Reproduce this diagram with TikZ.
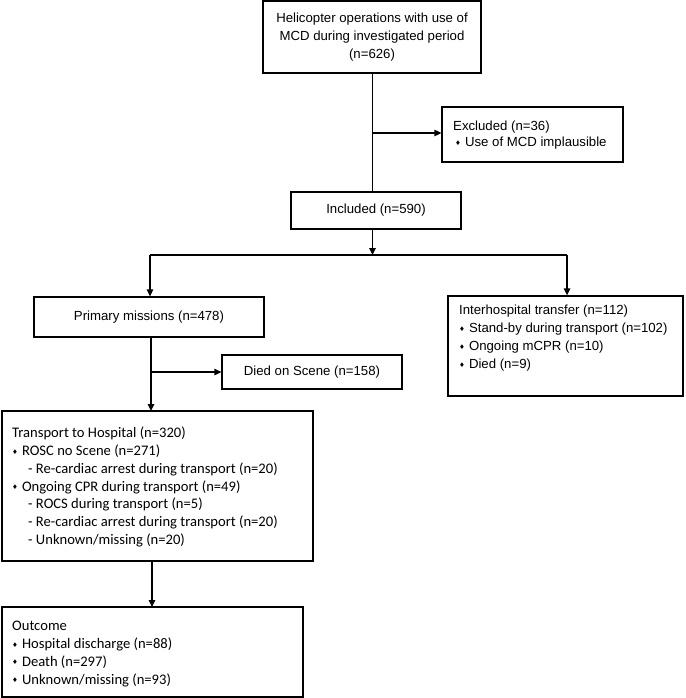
\documentclass[tikz,border=0pt]{standalone}
\usepackage{fontspec}
\setmainfont{Liberation Sans}
\newfontfamily\calfont{Carlito}
\newfontfamily\dejafont{DejaVu Sans}
\usetikzlibrary{arrows.meta}
\newcommand\dmd{\raisebox{0.2ex}{\dejafont\fontsize{6.5}{6.5}\selectfont ♦}\hspace{4pt}}
\newcommand\subind{\hspace*{16pt}}
\tikzset{
  box/.style={draw, line width=1.3pt, rectangle, inner sep=0pt},
  ln/.style={line width=1.3pt},
  arr/.style={line width=1.3pt, -{Triangle[length=7pt,width=6.5pt]}},
  ari/.style={font=\fontsize{13.2}{18}\selectfont, align=center},
  txa/.style={font=\fontsize{13.2}{18}\selectfont, align=left, inner sep=0pt, anchor=west},
  txc/.style={font=\calfont\fontsize{14.6}{17.7}\selectfont, align=left, inner sep=0pt, anchor=west},
}
\begin{document}
\begin{tikzpicture}[x=1pt,y=-1pt]
\useasboundingbox (0,0) rectangle (685,698);
% boxes
\node[box, ari, minimum width=218pt, minimum height=72pt] (top) at (372,37) {Helicopter operations with use of\\MCD during investigated period\\(n=626)};
\node[box, minimum width=181pt, minimum height=55pt] (excl) at (532.5,134.5) {};
\node[txa, font=\fontsize{13.2}{16.7}\selectfont] (excltxt) at (453,135) {Excluded (n=36)\\\hspace*{2pt}\dmd Use of MCD implausible};
\node[box, ari, minimum width=170pt, minimum height=37pt] (incl) at (376,210.5) {Included (n=590)};
\node[box, ari, minimum width=230pt, minimum height=40pt] (prim) at (149,317) {Primary missions (n=478)};
\node[box, minimum width=235pt, minimum height=100pt] (inter) at (565.5,346) {};
\node[txa] (intertxt) at (459,338) {Interhospital transfer (n=112)\\\dmd Stand-by during transport (n=102)\\\dmd Ongoing mCPR (n=10)\\\dmd Died (n=9)};
\node[box, ari, minimum width=180pt, minimum height=34pt] (died) at (312,372) {Died on Scene (n=158)};
\node[box, minimum width=311pt, minimum height=150pt] (trans) at (157.5,486) {};
\node[txc] (transtxt) at (12,487) {Transport to Hospital (n=320)\\\dmd ROSC no Scene (n=271)\\\subind - Re-cardiac arrest during transport (n=20)\\\dmd Ongoing CPR during transport (n=49)\\\subind - ROCS during transport (n=5)\\\subind - Re-cardiac arrest during transport (n=20)\\\subind - Unknown/missing (n=20)};
\node[box, minimum width=301pt, minimum height=90pt] (outc) at (152.5,652) {};
\node[txc] (outctxt) at (12,654) {Outcome\\\dmd Hospital discharge (n=88)\\\dmd Death (n=297)\\\dmd Unknown/missing (n=93)};
% coordinates
\coordinate (c1) at (372.5,73);
\coordinate (c2) at (372.5,133);
\coordinate (c3) at (372.5,192);
\coordinate (c4) at (372.5,229);
\coordinate (jm) at (372.5,255);
\coordinate (jl) at (150,255);
\coordinate (jr) at (567,255);
\coordinate (p1) at (151,337);
\coordinate (p2) at (151,372);
\coordinate (p3) at (151,411);
\coordinate (t1) at (152,561);
\coordinate (t2) at (152,607);
% connectors
\draw[ln] (c1) -- (c3);
\draw[arr] (c2) -- (excl.west |- c2);
\draw[arr] (c4) -- (jm);
\draw[ln] (jl) -- (jr);
\draw[arr] (jl) -- (prim.north -| jl);
\draw[arr] (jr) -- (inter.north -| jr);
\draw[arr] (p1) -- (p3);
\draw[arr] (p2) -- (died.west);
\draw[arr] (t1) -- (t2);
\end{tikzpicture}
\end{document}
